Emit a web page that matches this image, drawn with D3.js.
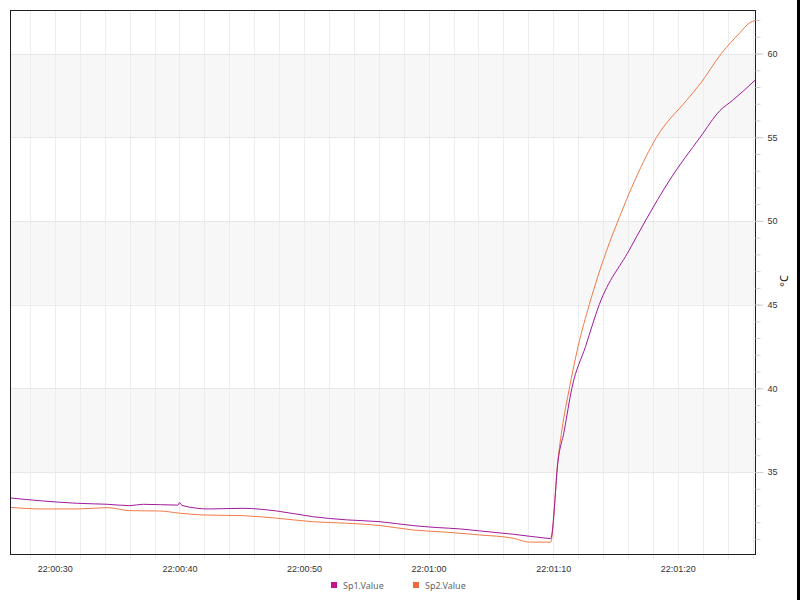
<!DOCTYPE html>
<html>
<head>
<meta charset="utf-8">
<script src="https://cdn.jsdelivr.net/npm/d3@7"></script>
<style>
  body { margin: 0; background: #fff; }
  svg { display: block; font-family: 'Noto Sans', 'Open Sans', sans-serif; }
  .tick text { fill: #333; font-size: 9px; }
</style>
</head>
<body>
<svg id="chart" width="800" height="600"></svg>
<script>
// seconds after 22:00:00
const sp1Times = [26.4, 29.0, 31.8, 34.2, 36.0, 37.1, 39.9, 40.0, 40.2, 42.4, 45.1, 47.8, 50.7, 53.4, 56.1, 58.7, 60.7, 62.5, 64.1, 66.8, 69.5, 69.8,
  70.2, 70.3, 70.9, 71.5, 72.6, 73.7, 76.1, 77.4, 79.4, 81.8, 83.4, 84.4, 86.2]
const sp1Values = [33.45, 33.27, 33.13, 33.07, 32.99, 33.07, 33.02, 33.18, 33.0, 32.79, 32.83, 32.67, 32.33, 32.14, 32.03, 31.80, 31.68, 31.60, 31.48, 31.28, 31.04, 31.02,
  33.93, 35.0, 37.5, 40.0, 42.5, 45.0, 48.25, 50.0, 52.5, 55.0, 56.6, 57.2, 58.4]

const sp2Times = [26.4, 29.0, 31.8, 34.2, 36.0, 38.4, 40.0, 41.9, 45.1, 47.8, 50.7, 53.4, 56.1, 58.7, 61.5, 64.1, 66.8, 68.1, 69.8,
  70.2, 70.3, 70.7, 71.3, 72.0, 72.9, 74.3, 75.2, 76.6, 78.3, 80.7, 81.8, 83.5, 85.0, 85.8, 86.2]
const sp2Values = [32.89, 32.79, 32.79, 32.87, 32.69, 32.67, 32.54, 32.43, 32.39, 32.24, 32.03, 31.94, 31.80, 31.54, 31.40, 31.24, 31.04, 30.81, 30.81,
  33.93, 35.0, 37.5, 40.0, 42.5, 45.0, 48.25, 50.0, 52.5, 55.0, 57.2, 58.19, 60.0, 61.25, 61.85, 61.97]

const seriesNames = ['Sp1.Value', 'Sp2.Value']
const yTickValues = [35, 40, 45, 50, 55, 60]
const xTickSeconds = [30, 40, 50, 60, 70, 80]

const base = new Date(2020, 0, 1, 22, 0, 0)
const toDate = s => new Date(base.getTime() + s * 1000)

const width = 800
const height = 600
const margin = { top: 10, right: 45, bottom: 46, left: 10 }
const innerW = width - margin.left - margin.right
const innerH = height - margin.top - margin.bottom

const svg = d3.select('#chart')

let x = d3.scaleTime().domain([toDate(26.4), toDate(86.2)]).range([margin.left, margin.left + innerW])
let y = d3.scaleLinear().domain([30.1, 62.6]).range([margin.top + innerH, margin.top])

// alternating bands
let bands = [[35, 40], [45, 50], [55, 60]]
svg.append('g').selectAll('rect').data(bands).join('rect')
  .attr('x', margin.left)
  .attr('width', innerW)
  .attr('y', d => y(d[1]))
  .attr('height', d => y(d[0]) - y(d[1]))
  .attr('fill', '#f7f7f7')

// vertical grid every 2 s, with a short stub below the frame
let gridSeconds = d3.range(28, 87, 2)
svg.append('g').selectAll('line').data(gridSeconds).join('line')
  .attr('x1', d => Math.round(x(toDate(d))) + 0.5)
  .attr('x2', d => Math.round(x(toDate(d))) + 0.5)
  .attr('y1', margin.top)
  .attr('y2', margin.top + innerH + 5)
  .attr('stroke', '#ededed')

// horizontal grid
svg.append('g').selectAll('line').data(yTickValues).join('line')
  .attr('x1', margin.left)
  .attr('x2', margin.left + innerW)
  .attr('y1', d => Math.round(y(d)) + 0.5)
  .attr('y2', d => Math.round(y(d)) + 0.5)
  .attr('stroke', '#e8e8e8')

// series
let line = d3.line().curve(d3.curveMonotoneX).x(d => x(toDate(d[0]))).y(d => y(d[1]))
let sp1 = d3.zip(sp1Times, sp1Values)
let sp2 = d3.zip(sp2Times, sp2Values)

svg.append('path').datum(sp2)
  .attr('d', line)
  .attr('fill', 'none')
  .attr('stroke', '#f07a48')
  .attr('stroke-width', 1)

svg.append('path').datum(sp1)
  .attr('d', line)
  .attr('fill', 'none')
  .attr('stroke', '#a0199c')
  .attr('stroke-width', 1)

// frame
svg.append('rect')
  .attr('x', margin.left + 0.5)
  .attr('y', margin.top + 0.5)
  .attr('width', innerW)
  .attr('height', innerH)
  .attr('fill', 'none')
  .attr('stroke', '#1e1e1e')

// right axis, minor then major
let yMinor = svg.append('g')
  .attr('transform', `translate(${margin.left + innerW + 0.5},0)`)
  .call(d3.axisRight(y).tickValues(d3.range(31, 63)).tickSize(5).tickFormat(''))
yMinor.select('.domain').remove()
yMinor.selectAll('line').attr('stroke', '#cfcfcf')

let yAxis = svg.append('g')
  .attr('transform', `translate(${margin.left + innerW + 0.5},0)`)
  .call(d3.axisRight(y).tickValues(yTickValues).tickSize(8).tickPadding(4))
yAxis.select('.domain').remove()
yAxis.selectAll('line').attr('stroke', '#cfcfcf')

svg.append('text')
  .attr('transform', 'translate(784,281) rotate(-90)')
  .attr('text-anchor', 'middle')
  .attr('dy', '0.35em')
  .attr('font-size', 11)
  .attr('fill', '#111')
  .text('°C')

// bottom axis labels
let xAxis = svg.append('g')
  .attr('transform', `translate(0,${margin.top + innerH})`)
  .call(d3.axisBottom(x).tickValues(xTickSeconds.map(toDate)).tickSize(0).tickPadding(12)
    .tickFormat(d3.timeFormat('%H:%M:%S')))
xAxis.select('.domain').remove()

// legend
let legendColors = ['#c4128e', '#f26a3c']
let legendX = [331, 413]
let legend = svg.append('g').selectAll('g').data(seriesNames).join('g')
  .attr('transform', (d, i) => `translate(${legendX[i]},582)`)
legend.append('rect')
  .attr('width', 6)
  .attr('height', 6)
  .attr('fill', (d, i) => legendColors[i])
legend.append('text')
  .attr('x', 12)
  .attr('y', 7)
  .attr('font-size', 9)
  .attr('fill', '#666')
  .text(d => d)

// dark strip on the right edge
svg.append('rect')
  .attr('x', 797)
  .attr('y', 0)
  .attr('width', 3)
  .attr('height', height)
  .attr('fill', '#000')
</script>
</body>
</html>
